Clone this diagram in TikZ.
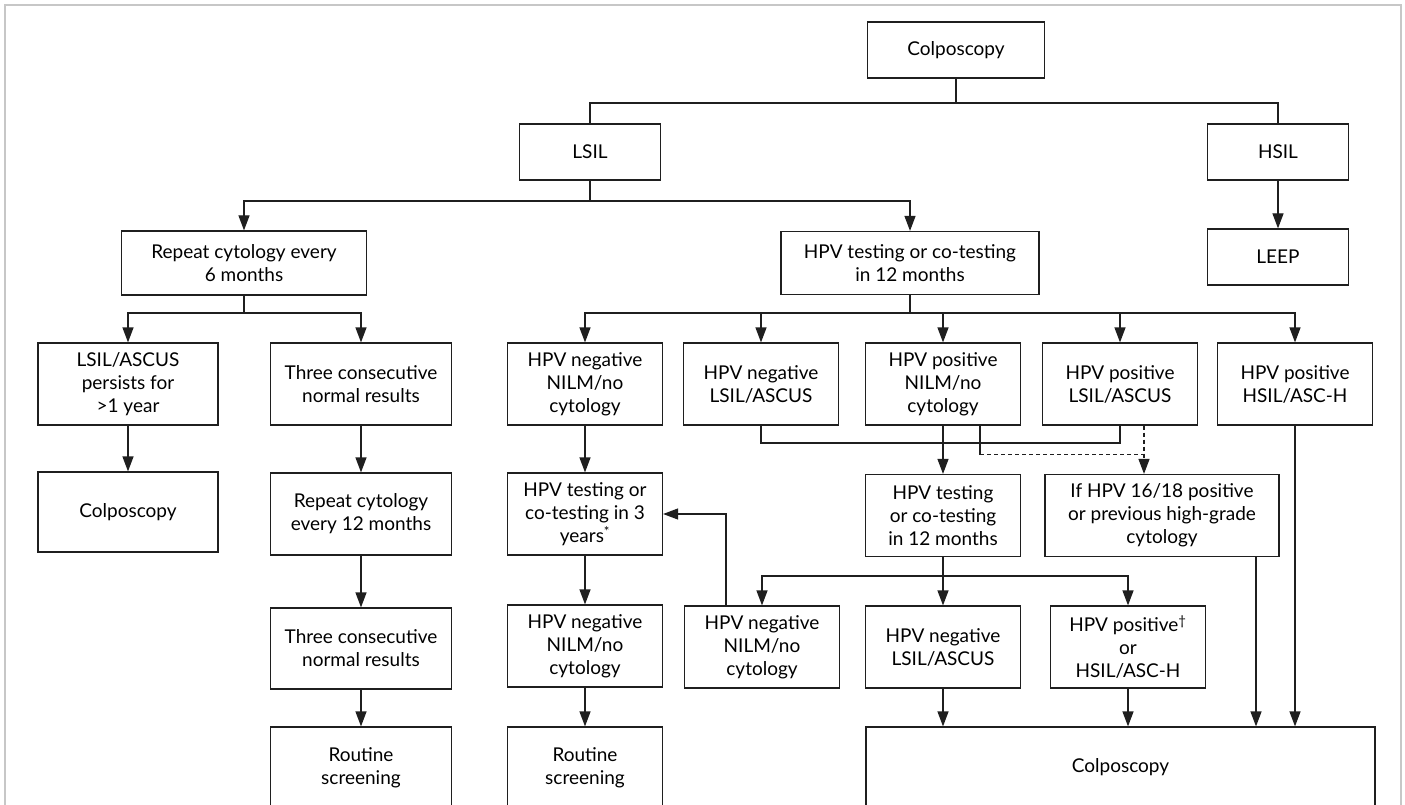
\documentclass[tikz,border=0pt]{standalone}
\usepackage{fontspec}
\setmainfont{Lato}
\usetikzlibrary{arrows.meta,calc}
\tikzset{
  bx/.style={draw=black!88,line width=1.2pt,align=center,inner sep=0pt,font=\fontsize{19}{23}\selectfont},
  ln/.style={draw=black!88,line width=1.2pt},
  ar/.style={ln,-{Triangle[width=11pt,length=15pt]}},
  dsh/.style={dash pattern=on 4pt off 3pt},
  wA/.style={minimum width=181pt},
  wH/.style={minimum width=155pt},
}
\begin{document}
\begin{tikzpicture}[x=1pt,y=-1pt]
\useasboundingbox (0,0) rectangle (1405,805);
\clip (0,0) rectangle (1405,805);
\fill[white] (0,0) rectangle (1405,805);
\draw[draw=black!22,line width=1.5pt] (5,5) rectangle (1401,830);

% levels
\coordinate (j1) at (0,103);
\coordinate (j2) at (0,201);
\coordinate (j3) at (0,313);
\coordinate (j4) at (0,443);
\coordinate (j5) at (0,576);

% row 1-3
\node[bx,minimum width=177pt,minimum height=56pt] (top) at (956,50) {Colposcopy};
\node[bx,minimum width=141pt,minimum height=56pt] (lsil) at (590,152) {LSIL};
\node[bx,minimum width=141pt,minimum height=56pt] (hsil) at (1278,152) {HSIL};
\node[bx,minimum width=245pt,minimum height=64pt] (rep6) at (244,263) {Repeat cytology every\\6 months};
\node[bx,minimum width=258pt,minimum height=63pt] (hpv12) at (910,263) {HPV testing or co-testing\\in 12 months};
\node[bx,minimum width=141pt,minimum height=56pt] (leep) at (1278,257) {LEEP};

% row 4
\node[bx,minimum width=180pt,minimum height=82pt] (A) at (128,384) {LSIL/ASCUS\\persists for\\>1 year};
\node[bx,wA,minimum height=82pt] (B) at (361,384) {Three consecutive\\normal results};
\node[bx,wH,minimum height=82pt] (C) at (585,384) {HPV negative\\NILM/no\\cytology};
\node[bx,wH,minimum height=82pt] (D) at (761,384) {HPV negative\\LSIL/ASCUS};
\node[bx,wH,minimum height=82pt] (E) at (943,384) {HPV positive\\NILM/no\\cytology};
\node[bx,wH,minimum height=82pt] (F) at (1120,384) {HPV positive\\LSIL/ASCUS};
\node[bx,wH,minimum height=82pt] (G) at (1295,384) {HPV positive\\HSIL/ASC-H};

% row 5
\node[bx,minimum width=180pt,minimum height=80pt] (A5) at (128,512) {Colposcopy};
\node[bx,wA,minimum height=82pt] (B5) at (361,514) {Repeat cytology\\every 12 months};
\node[bx,wH,minimum height=82pt] (C5) at (585,514) {HPV testing or\\co-testing in 3\\years\textsuperscript{*}};
\node[bx,wH,minimum height=82pt] (E5) at (943,515.5) {HPV testing\\or co-testing\\in 12 months};
\node[bx,minimum width=234pt,minimum height=82pt] (If) at (1162,515.5) {If HPV 16/18 positive\\or previous high-grade\\cytology};

% row 6
\node[bx,wA,minimum height=81pt] (B6) at (361,648.5) {Three consecutive\\normal results};
\node[bx,wH,minimum height=82pt] (C6) at (585,646) {HPV negative\\NILM/no\\cytology};
\node[bx,wH,minimum height=82pt] (D6) at (762,647) {HPV negative\\NILM/no\\cytology};
\node[bx,wH,minimum height=82pt] (E6) at (943,647) {HPV negative\\LSIL/ASCUS};
\node[bx,wH,minimum height=82pt] (F6) at (1128,647) {HPV positive\textsuperscript{\textdagger}\\or\\HSIL/ASC-H};

% row 7
\node[bx,wA,minimum height=81pt] (B7) at (361,767.5) {Routine\\screening};
\node[bx,wH,minimum height=81pt] (C7) at (585,767.5) {Routine\\screening};
\node[bx,minimum width=509pt,minimum height=81pt] (big) at (1120.5,767.5) {Colposcopy};

% connectors top
\draw[ln] (top.south) -- (top.south |- j1);
\draw[ln] (lsil.north) -- (lsil.north |- j1) -- (hsil.north |- j1) -- (hsil.north);
\draw[ar] (hsil.south) -- (leep.north);
\draw[ln] (lsil.south) -- (lsil.south |- j2);
\draw[ar] (lsil.south |- j2) -| (rep6.north);
\draw[ar] (lsil.south |- j2) -| (hpv12.north);

% to row 4
\draw[ln] (rep6.south) -- (rep6.south |- j3);
\draw[ar] (rep6.south |- j3) -| (A.north);
\draw[ar] (rep6.south |- j3) -| (B.north);
\draw[ln] (hpv12.south) -- (hpv12.south |- j3);
\draw[ar] (hpv12.south |- j3) -| (C.north);
\draw[ar] (hpv12.south |- j3) -| (D.north);
\draw[ar] (hpv12.south |- j3) -| (E.north);
\draw[ar] (hpv12.south |- j3) -| (F.north);
\draw[ar] (hpv12.south |- j3) -| (G.north);

% left columns
\draw[ar] (A.south) -- (A5.north);
\draw[ar] (B.south) -- (B5.north);
\draw[ar] (B5.south) -- (B6.north);
\draw[ar] (B6.south) -- (B7.north);
\draw[ar] (C.south) -- (C5.north);
\draw[ar] (C5.south) -- (C6.north);
\draw[ar] (C6.south) -- (C7.north);

% middle joins
\draw[ln] (D.south) -- (D.south |- j4) -- (F.south |- j4) -- (F.south);
\draw[ar] (E.south) -- (E5.north);
\coordinate (ed) at ($(E.south)+(37,0)$);
\coordinate (fd) at ($(F.south)+(24,0)$);
\draw[ln] (ed) -- ++(0,29) coordinate (edb);
\draw[ln,dsh] (edb) -- (edb -| fd);
\draw[ar,dsh] (fd) -- (fd |- If.north);

% row 5 -> row 6
\draw[ln] (E5.south) -- (E5.south |- j5);
\draw[ar] (E5.south |- j5) -| (D6.north);
\draw[ar] (E5.south) -- (E6.north);
\draw[ar] (E5.south |- j5) -| (F6.north);

% feedback
\coordinate (fb) at ($(D6.north)+(-36,0)$);
\draw[ar] (fb) |- (C5.east);

% into big colposcopy
\draw[ar] (E6.south) -- (E6.south |- big.north);
\draw[ar] (F6.south) -- (F6.south |- big.north);
\coordinate (ifs) at ($(If.south)+(94,0)$);
\draw[ar] (ifs) -- (ifs |- big.north);
\draw[ar] (G.south) -- (G.south |- big.north);
\end{tikzpicture}
\end{document}
